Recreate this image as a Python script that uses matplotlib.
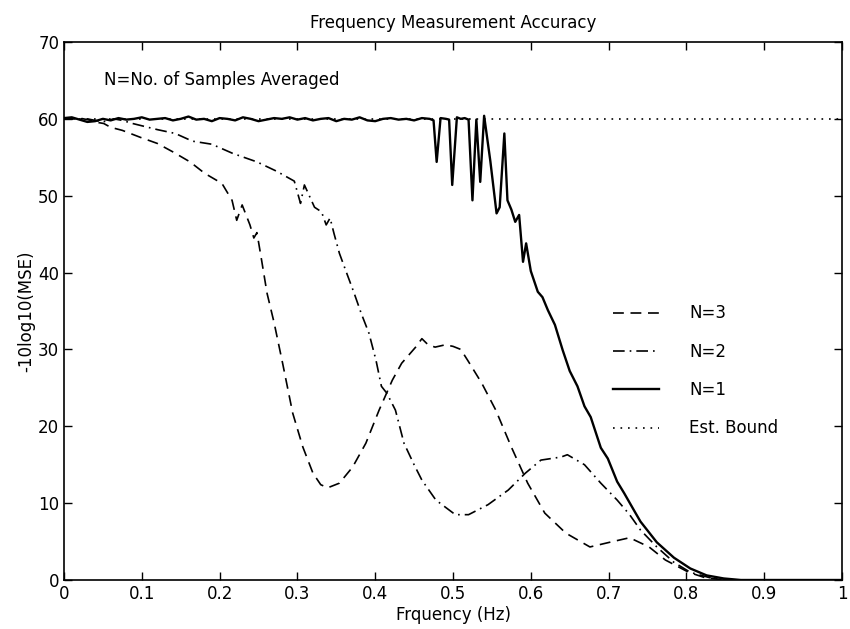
import matplotlib
matplotlib.use("Agg")
import matplotlib.pyplot as plt

# Est. Bound
bound_x = [0.0, 1.0]
bound_y = [60.0, 60.0]

# N=1 (solid)
n1_flat_x = [i / 100 for i in range(48)]
n1_flat_y = [60.1, 60.2, 59.9, 59.6, 59.7, 60.0, 59.8, 60.1, 59.9, 60.0,
             60.2, 59.9, 60.0, 60.1, 59.8, 60.0, 60.3, 59.9, 60.0, 59.7,
             60.1, 60.0, 59.8, 60.2, 60.0, 59.7, 59.9, 60.1, 60.0, 60.2,
             59.9, 60.1, 59.8, 60.0, 60.1, 59.7, 60.0, 59.9, 60.2, 59.8,
             59.7, 60.0, 60.1, 59.9, 60.0, 59.8, 60.1, 60.0]
n1_tail_x = [0.475, 0.479, 0.484, 0.491, 0.495, 0.499, 0.505, 0.51, 0.515, 0.52,
             0.525, 0.530, 0.535, 0.540, 0.548, 0.556, 0.560, 0.566, 0.570, 0.575,
             0.580, 0.585, 0.590, 0.594, 0.600, 0.609, 0.615, 0.622, 0.631, 0.641,
             0.650, 0.660, 0.669, 0.677, 0.690, 0.699, 0.711, 0.720, 0.733, 0.741,
             0.762, 0.784, 0.805, 0.826, 0.848, 0.87, 1.0]
n1_tail_y = [59.8, 54.4, 60.1, 60.0, 59.9, 51.4, 60.2, 60.0, 60.1, 59.9,
             49.4, 59.9, 51.8, 60.4, 54.5, 47.7, 48.5, 58.1, 49.4, 48.2,
             46.6, 47.5, 41.4, 43.8, 40.2, 37.5, 36.8, 35.1, 33.2, 29.9,
             27.2, 25.2, 22.6, 21.2, 17.2, 15.8, 12.8, 11.3, 9.0, 7.6,
             4.9, 2.9, 1.5, 0.6, 0.2, 0.0, 0.0]
n1_x = n1_flat_x + n1_tail_x
n1_y = n1_flat_y + n1_tail_y

# N=2 (dash-dot)
n2_x = [0.0, 0.03, 0.05, 0.064, 0.075, 0.088, 0.12, 0.143, 0.165, 0.19,
        0.217, 0.248, 0.273, 0.296, 0.304, 0.309, 0.322, 0.331, 0.337, 0.342,
        0.347, 0.354, 0.362, 0.373, 0.382, 0.392, 0.401, 0.408, 0.415, 0.426,
        0.437, 0.45, 0.46, 0.478, 0.503, 0.52, 0.545, 0.571, 0.593, 0.613,
        0.639, 0.647, 0.669, 0.69, 0.711, 0.727, 0.741, 0.762, 0.784, 0.805,
        0.83, 0.86, 1.0]
n2_y = [60.0, 60.0, 59.6, 60.0, 59.8, 59.4, 58.6, 58.1, 57.1, 56.7,
        55.5, 54.4, 53.2, 51.9, 49.0, 51.4, 48.5, 47.9, 46.2, 47.1,
        45.1, 42.5, 40.3, 37.3, 34.7, 32.1, 28.6, 25.2, 24.3, 22.1,
        17.8, 15.0, 13.0, 10.4, 8.5, 8.5, 9.8, 11.7, 13.9, 15.6,
        16.0, 16.3, 15.0, 12.6, 10.4, 8.5, 6.5, 4.3, 2.3, 1.0,
        0.3, 0.0, 0.0]

# N=3 (dashed)
n3_x = [0.0, 0.02, 0.035, 0.045, 0.051, 0.06, 0.075, 0.098, 0.12, 0.14,
        0.162, 0.181, 0.203, 0.216, 0.222, 0.229, 0.239, 0.244, 0.248, 0.254,
        0.261, 0.270, 0.281, 0.294, 0.307, 0.320, 0.330, 0.339, 0.354, 0.371,
        0.388, 0.405, 0.422, 0.434, 0.452, 0.46, 0.468, 0.477, 0.49, 0.50,
        0.51, 0.52, 0.537, 0.555, 0.575, 0.596, 0.618, 0.645, 0.676, 0.701,
        0.727, 0.752, 0.773, 0.803, 0.824, 0.85, 1.0]
n3_y = [60.0, 60.1, 59.8, 59.5, 59.4, 58.9, 58.5, 57.6, 56.8, 55.7,
        54.4, 52.9, 51.6, 49.4, 46.8, 48.8, 46.2, 44.5, 45.2, 41.6,
        37.3, 33.5, 28.2, 21.7, 17.3, 13.9, 12.4, 12.0, 12.6, 14.7,
        17.8, 22.1, 26.0, 28.2, 30.3, 31.4, 30.6, 30.3, 30.6, 30.4,
        30.0, 28.4, 25.6, 22.1, 17.3, 12.6, 8.7, 6.1, 4.3, 4.9,
        5.5, 4.3, 2.6, 1.0, 0.3, 0.0, 0.0]

x_ticks = [0, 0.1, 0.2, 0.3, 0.4, 0.5, 0.6, 0.7, 0.8, 0.9, 1.0]
x_tick_labels = ["0", "0.1", "0.2", "0.3", "0.4", "0.5", "0.6", "0.7", "0.8", "0.9", "1"]
y_ticks = [0, 10, 20, 30, 40, 50, 60, 70]

plt.rcParams["font.family"] = ["DejaVu Sans"]

fig = plt.figure(figsize=(8.5, 6.29), dpi=100)
ax = fig.add_axes([64 / 850, 49 / 629, 778 / 850, 538 / 629])

ax.plot(bound_x, bound_y, color="black", lw=1.2, linestyle=(0, (1, 3.5)), zorder=1)
ax.plot(n1_x, n1_y, color="black", lw=1.7, zorder=3)
ax.plot(n2_x, n2_y, color="black", lw=1.2, linestyle=(0, (7, 3, 1, 3)), zorder=2)
ax.plot(n3_x, n3_y, color="black", lw=1.2, linestyle=(0, (6.5, 4)), zorder=2)

# legend order as in the figure
h3, = ax.plot([], [], color="black", lw=1.2, linestyle=(0, (6.5, 4)))
h2, = ax.plot([], [], color="black", lw=1.2, linestyle=(0, (7, 3, 1, 3)))
h1, = ax.plot([], [], color="black", lw=1.7)
hb, = ax.plot([], [], color="black", lw=1.2, linestyle=(0, (1, 3.5)))
ax.legend([h3, h2, h1, hb], ["N=3", "N=2", "N=1", "Est. Bound"],
          loc="upper left", bbox_to_anchor=(0.686, 0.54), frameon=False,
          fontsize=12, handlelength=2.8, handletextpad=1.8, labelspacing=1.22)

ax.text(0.051, 65.0, "N=No. of Samples Averaged", fontsize=12, va="center", ha="left")

ax.set_xlim(0, 1)
ax.set_ylim(0, 70)
ax.set_xticks(x_ticks)
ax.set_xticklabels(x_tick_labels)
ax.set_yticks(y_ticks)
ax.tick_params(direction="in", top=True, right=True, length=6, width=1, labelsize=12)
for s in ax.spines.values():
    s.set_linewidth(1.2)

ax.set_title("Frequency Measurement Accuracy", fontsize=12, pad=10)
ax.set_xlabel("Frquency (Hz)", fontsize=12, labelpad=2)
ax.set_ylabel("-10log10(MSE)", fontsize=12, labelpad=2)

fig.savefig("out.png", dpi=100)
